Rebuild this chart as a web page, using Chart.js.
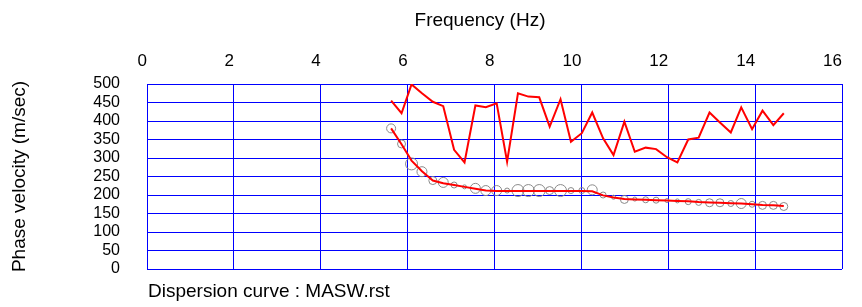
<!DOCTYPE html>
<html>
<head>
<meta charset="utf-8">
<script src="https://cdn.jsdelivr.net/npm/chart.js@4.4.1/dist/chart.umd.min.js"></script>
<style>
  html, body { margin: 0; padding: 0; background: #fff; }
</style>
</head>
<body>
<canvas id="the-chart" width="862" height="307"></canvas>
<script>
// frequencies (Hz) of the picked points
const freqs = [5.62, 5.86, 6.09, 6.33, 6.58, 6.82, 7.07, 7.31, 7.56, 7.80,
    8.05, 8.29, 8.54, 8.78, 9.03, 9.27, 9.52, 9.76, 10.01, 10.25,
    10.50, 10.74, 10.99, 11.23, 11.48, 11.72, 11.97, 12.21, 12.46, 12.70,
    12.95, 13.19, 13.44, 13.68, 13.93, 14.17, 14.42, 14.66];

// upper red trace (m/sec)
const rawVelocity = [455, 421, 499, 475, 452, 440, 322, 288, 442, 437,
    448, 290, 475, 466, 464, 385, 459, 344, 367, 423,
    353, 308, 398, 317, 328, 324, 302, 288, 350, 355,
    423, 396, 369, 437, 378, 428, 389, 421];

// lower red trace, fitted dispersion curve
const fitVelocity = [380, 337, 293, 264, 239, 232, 227, 222, 217, 212,
    211, 211, 211, 211, 211, 211, 211, 211, 211, 210,
    199, 193, 189, 188, 187, 186, 185, 184, 183, 181,
    180, 179, 178, 177, 175, 173, 172, 170];

// picked points (grey circles) and their relative weight
const pickVelocity = [380, 338, 284, 263, 239, 234, 227, 222, 218, 212,
    212, 212, 212, 212, 212, 212, 212, 212, 212, 214,
    200, 194, 188, 189, 187, 186, 185, 184, 182, 180,
    179, 179, 177, 177, 175, 172, 172, 169];
const pickWeight = [4.5, 4, 6, 5, 4, 5, 3, 2, 5, 5,
    5, 2.5, 6, 6, 6, 4, 6, 3, 3, 5,
    3, 2, 4, 2, 3, 3, 2, 2, 3, 3,
    4, 4, 3, 5, 3, 4, 4, 4];

const xTickValues = [0, 2, 4, 6, 8, 10, 12, 14, 16];
const yTickValues = [0, 50, 100, 150, 200, 250, 300, 350, 400, 450, 500];

const FONT = '"Liberation Sans", Arial, sans-serif';

const toPoints = (ys) => freqs.map((f, i) => ({ x: f, y: ys[i] }));

// titles that don't sit where chart.js would put them
const textPlugin = {
    id: 'texts',
    afterDraw(chart) {
        const ctx = chart.ctx;
        ctx.save();
        ctx.fillStyle = '#000';
        ctx.textBaseline = 'middle';
        ctx.font = '19px ' + FONT;
        ctx.textAlign = 'center';
        ctx.fillText('Frequency (Hz)', 480, 21);
        ctx.textAlign = 'left';
        ctx.fillText('Dispersion curve : MASW.rst', chart.chartArea.left + 1, 292);
        ctx.restore();
    }
};

new Chart(document.getElementById('the-chart'), {
    type: 'scatter',
    data: {
        datasets: [
            {
                data: toPoints(fitVelocity),
                showLine: true,
                borderColor: '#ff0000',
                borderWidth: 2,
                pointRadius: 0,
                order: 0
            },
            {
                data: toPoints(rawVelocity),
                showLine: true,
                borderColor: '#ff0000',
                borderWidth: 2,
                pointRadius: 0,
                order: 0
            },
            {
                data: toPoints(pickVelocity),
                showLine: false,
                borderColor: '#8a8a8a',
                backgroundColor: 'rgba(0,0,0,0)',
                borderWidth: 1,
                pointRadius: (c) => pickWeight[c.dataIndex],
                order: 1
            }
        ]
    },
    options: {
        responsive: false,
        animation: false,
        layout: { padding: { left: 0, top: 0, right: 20, bottom: 38 } },
        plugins: {
            legend: { display: false },
            tooltip: { enabled: false }
        },
        scales: {
            x: {
                type: 'linear',
                position: 'top',
                min: 0,
                max: 16,
                afterBuildTicks: (scale) => { scale.ticks = xTickValues.map(v => ({ value: v })); },
                afterFit: (scale) => { scale.height = 84; },
                grid: { color: '#0000ff', lineWidth: 1, drawTicks: false },
                border: { color: '#0000ff', width: 1 },
                ticks: {
                    align: 'end',
                    maxRotation: 0,
                    autoSkip: false,
                    padding: 12,
                    color: '#000',
                    font: { family: FONT, size: 17 }
                }
            },
            y: {
                type: 'linear',
                min: 0,
                max: 500,
                afterBuildTicks: (scale) => { scale.ticks = yTickValues.map(v => ({ value: v })); },
                afterFit: (scale) => { scale.width = 147; },
                grid: { color: '#0000ff', lineWidth: 1, drawTicks: false },
                border: { color: '#0000ff', width: 1 },
                title: {
                    display: true,
                    text: 'Phase velocity (m/sec)',
                    color: '#000',
                    font: { family: FONT, size: 19 },
                    padding: { top: 8, bottom: 0 }
                },
                ticks: {
                    autoSkip: false,
                    padding: 27,
                    color: '#000',
                    font: { family: FONT, size: 16 }
                }
            }
        }
    },
    plugins: [textPlugin]
});
</script>
</body>
</html>
